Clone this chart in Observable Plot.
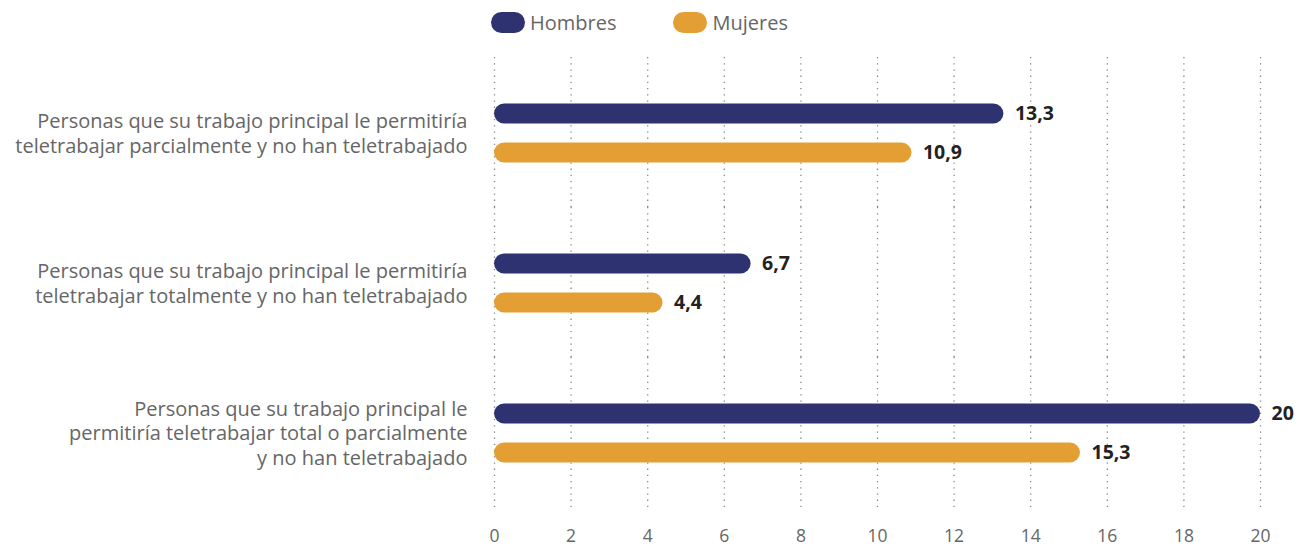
<!DOCTYPE html>
<html>
<head>
<meta charset="utf-8">
<script src="https://cdn.jsdelivr.net/npm/d3@7"></script>
<script src="https://cdn.jsdelivr.net/npm/@observablehq/plot@0.6"></script>
<style>
  html, body { margin: 0; padding: 0; background: #fff; }
  #wrap { position: relative; width: 1313px; height: 546px; }
  #legend { position: absolute; top: 9px; left: 491px; display: flex; align-items: center;
    font-family: "Open Sans", "Noto Sans", sans-serif; font-size: 20px; color: #666; }
  .item { display: flex; align-items: center; margin-right: 57px; }
  .sw { width: 34px; height: 21px; border-radius: 11px; margin-right: 5px; }
</style>
</head>
<body>
<div id="wrap">
  <div id="legend"></div>
  <div id="chart"></div>
</div>
<script>
const categories = [
  "Personas que su trabajo principal le permitiría\nteletrabajar parcialmente y no han teletrabajado",
  "Personas que su trabajo principal le permitiría\nteletrabajar totalmente y no han teletrabajado",
  "Personas que su trabajo principal le\npermitiría teletrabajar total o parcialmente\ny no han teletrabajado"
];
const series = ["Hombres", "Mujeres"];
const hombres = [13.3, 6.7, 20];
const mujeres = [10.9, 4.4, 15.3];
const xTicks = [0, 2, 4, 6, 8, 10, 12, 14, 16, 18, 20];
const colors = ["#2e3270", "#e39f33"];

const data = [];
categories.forEach((c, i) => {
  data.push({cat: c, sex: series[0], value: hombres[i]});
  data.push({cat: c, sex: series[1], value: mujeres[i]});
});

const fmt = v => String(v).replace(".", ",");

const legend = document.getElementById("legend");
series.forEach((s, i) => {
  const it = document.createElement("div");
  it.className = "item";
  it.innerHTML = `<span class="sw" style="background:${colors[i]}"></span><span>${s}</span>`;
  legend.appendChild(it);
});

const chart = Plot.plot({
  width: 1313,
  height: 546,
  marginLeft: 494,
  marginRight: 53,
  marginTop: 57,
  marginBottom: 39,
  style: {fontFamily: "'Open Sans', 'Noto Sans', sans-serif", background: "#fff"},
  x: {domain: [0, 20], ticks: xTicks, label: null},
  fy: {domain: categories, padding: 0, label: null, axis: null},
  y: {domain: series, padding: 0, insetTop: 36.5, insetBottom: 35.5, axis: null},
  color: {domain: series, range: colors},
  marks: [
    Plot.ruleX(xTicks, {stroke: "#888", strokeWidth: 1.3, strokeDasharray: "1.3,4.9", strokeOpacity: 1}),
    Plot.barX(data, {x: "value", y: "sex", fy: "cat", fill: "sex", insetTop: 9.5, insetBottom: 9.5, rx: 10}),
    Plot.text(data, {x: "value", y: "sex", fy: "cat", text: d => fmt(d.value), dx: 11, textAnchor: "start",
      fontWeight: 700, fontSize: 19.5, fill: "#222"}),
    Plot.text(categories, {fy: d => d, text: d => d, frameAnchor: "left", dx: -27, textAnchor: "end",
      fontSize: 20, lineHeight: 1.23, fill: "#666"}),
    Plot.axisX({ticks: xTicks, tickSize: 0, tickPadding: 22, fontSize: 17.5, fill: "#666",
      label: null, tickFormat: d => String(d)})
  ]
});
document.getElementById("chart").appendChild(chart);
</script>
</body>
</html>
